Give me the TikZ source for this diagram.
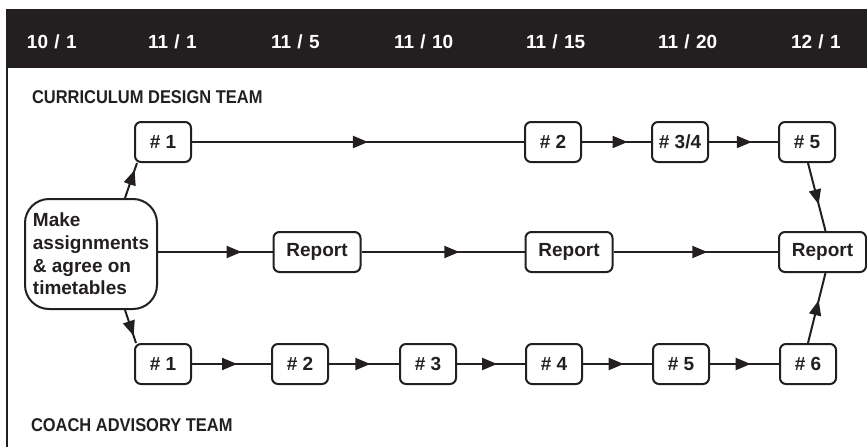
\documentclass[tikz,border=0pt]{standalone}
\usepackage{fontspec}
\setmainfont{Liberation Sans}
\newfontfamily\hdrfont{Liberation Sans}[WordSpace=1.2]
\newfontfamily\teamfont{Liberation Sans}[FakeStretch=0.89]
\usetikzlibrary{arrows.meta,decorations.markings}
\definecolor{ink}{HTML}{231F20}
\begin{document}
\begin{tikzpicture}[x=1pt,y=-1pt,
  line width=2pt, draw=ink, text=ink,
  lbl/.style={font=\fontsize{19}{23}\selectfont\bfseries},
  hdr/.style={anchor=west, text=white, inner sep=0pt, font=\hdrfont\fontsize{19}{23}\selectfont\bfseries},
  team/.style={anchor=west, inner sep=0pt, font=\teamfont\fontsize{18.5}{22}\selectfont\bfseries},
  stepbox/.style={draw=ink, line width=2pt, rounded corners=6pt, minimum width=56pt, minimum height=40pt, inner sep=0pt, lbl},
  repbox/.style={stepbox, minimum width=87pt},
  conn/.style={draw=ink, line width=2pt, postaction={decorate},
    decoration={markings, mark=at position #1 with {\arrow{Triangle[length=15pt,width=12pt]}}}}
]
\useasboundingbox (0,0) rectangle (867,447);
% header bar
\fill[ink] (6,9) rectangle (867,68);
\draw[ink, line width=2pt] (7,67) -- (7,447);
\node[hdr] (h1) at (26,42) {10 / 1};
\node[hdr] (h2) at (147,42) {11 / 1};
\node[hdr] (h3) at (270,42) {11 / 5};
\node[hdr] (h4) at (393,42) {11 / 10};
\node[hdr] (h5) at (525,42) {11 / 15};
\node[hdr] (h6) at (657,42) {11 / 20};
\node[hdr] (h7) at (790,42) {12 / 1};
% team labels
\node[team] (cdt) at (31,97) {CURRICULUM DESIGN TEAM};
\node[team] (cat) at (30,425) {COACH ADVISORY TEAM};
% start box
\node[draw=ink, line width=2pt, rounded corners=24pt, minimum width=132pt, minimum height=110pt,
      inner sep=0pt, align=left, font=\fontsize{19}{22.7}\selectfont\bfseries] (mk) at (91,254)
  {Make\\assignments\\\& agree on\\timetables};
% top row
\node[stepbox] (t1) at (163,142) {\# 1};
\node[stepbox] (t2) at (553,142) {\# 2};
\node[stepbox] (t3) at (680,142) {\# 3/4};
\node[stepbox] (t5) at (807,142) {\# 5};
% middle row
\node[repbox] (r1) at (317,252) {Report};
\node[repbox] (r2) at (569,252) {Report};
\node[repbox] (r3) at (822.5,252) {Report};
% bottom row
\node[stepbox] (b1) at (163,364) {\# 1};
\node[stepbox] (b2) at (300,364) {\# 2};
\node[stepbox] (b3) at (428,364) {\# 3};
\node[stepbox] (b4) at (554,364) {\# 4};
\node[stepbox] (b5) at (681,364) {\# 5};
\node[stepbox] (b6) at (808,364) {\# 6};
% connectors
\draw[conn=0.8] ([xshift=34pt]mk.north) -- ([xshift=3pt]t1.south west);
\draw[conn=0.78] ([xshift=34pt]mk.south) -- ([xshift=2pt]b1.north west);
\draw[conn=0.53] (t1.east) -- (t2.west);
\draw[conn=0.66] (t2.east) -- (t3.west);
\draw[conn=0.62] (t3.east) -- (t5.west);
\draw[conn=0.61] ([xshift=1pt]t5.south) -- ([xshift=3pt]r3.north);
\draw[conn=0.73] (mk.east |- r1.west) -- (r1.west);
\draw[conn=0.6] (r1.east) -- (r2.west);
\draw[conn=0.57] (r2.east) -- (r3.west);
\draw[conn=0.57] (b1.east) -- (b2.west);
\draw[conn=0.59] (b2.east) -- (b3.west);
\draw[conn=0.59] (b3.east) -- (b4.west);
\draw[conn=0.59] (b4.east) -- (b5.west);
\draw[conn=0.59] (b5.east) -- (b6.west);
\draw[conn=0.61] (b6.north) -- ([xshift=3pt]r3.south);
\end{tikzpicture}
\end{document}
